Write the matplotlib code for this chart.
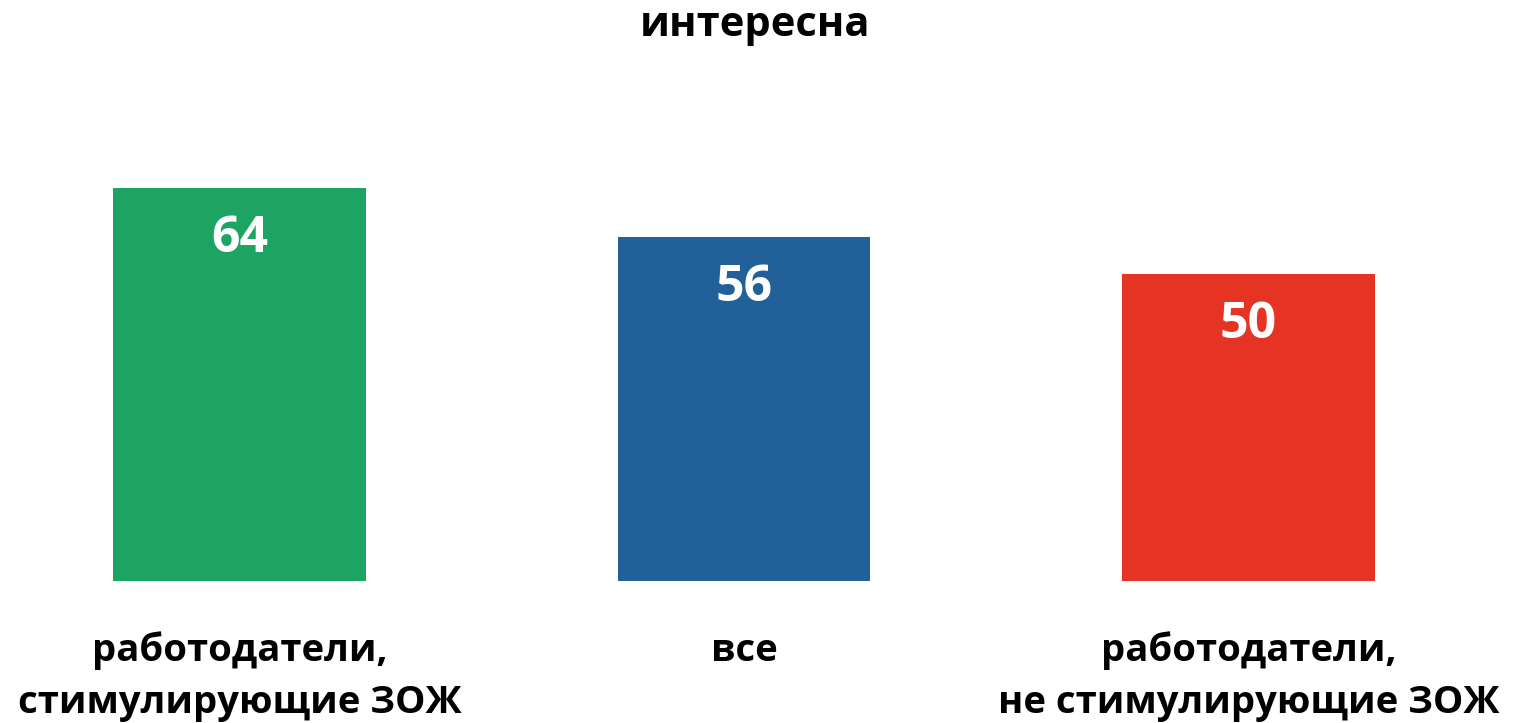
import matplotlib.pyplot as plt

categories = ["работодатели,\nстимулирующие ЗОЖ", "все", "работодатели,\nне стимулирующие ЗОЖ"]
values = [64, 56, 50]
colors = ["#1ea462", "#22609a", "#e63424"]
title = "интересна"

plt.rcParams['font.family'] = ['Open Sans', 'DejaVu Sans']

fig = plt.figure(figsize=(15.21, 7.23), dpi=100)
ax = fig.add_axes([0, 142 / 723, 1, 581 / 723])

x = list(range(len(values)))
ax.bar(x, values, width=0.5, color=colors)
ax.set_xlim(-0.4747, 2.540)
ax.set_ylim(0, 94.5)

for xi, v in zip(x, values):
    ax.text(xi, v - 8.3, str(v), ha="center", va="center", color="white",
            fontsize=36, fontweight="bold")

# category labels, one text per line so the baselines sit where they should
for xi, c in zip(x, categories):
    for k, line in enumerate(c.split("\n")):
        ax.text(xi, -(80 + 52 * k) / 6.15, line, ha="center", va="baseline",
                fontsize=27.5, fontweight="bold", clip_on=False)

fig.text(0.4965, 1 - 36 / 723, title, ha="center", va="baseline", fontsize=30,
         fontweight="bold")

ax.axis("off")
fig.savefig("out.png", dpi=100)
